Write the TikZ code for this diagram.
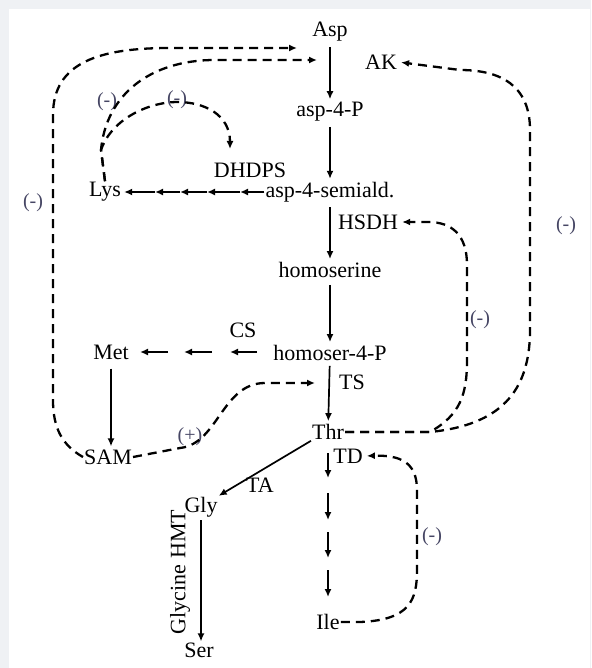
\documentclass[tikz,border=0pt]{standalone}
\usepackage{fontspec}
\setmainfont{Liberation Serif}
\usetikzlibrary{arrows.meta}
\definecolor{framegray}{RGB}{239,241,244}
\definecolor{signcol}{RGB}{70,70,100}

\begin{document}
\begin{tikzpicture}[
  x=1pt, y=-1pt,
  met/.style={inner sep=1pt, font=\fontsize{22}{25}\selectfont},
  sign/.style={inner sep=0pt, text=signcol, font=\fontsize{20}{23}\selectfont},
  arr/.style={-{Latex[length=8pt,width=7pt]}, line width=1.7pt},
  darr/.style={-{Latex[length=8pt,width=7pt]}, line width=2.3pt,
               dash pattern=on 9pt off 6pt}
]
  \useasboundingbox (0,0) rectangle (591,668);
  \fill[framegray] (0,0) rectangle (591,668);
  \fill[white] (9,9) rectangle (590,668);

  % Metabolites and enzymes
  \node[met] (asp) at (330,32) {Asp};
  \node[met] (ak) at (381,62) {AK};
  \node[met] (asp4p) at (330,112) {asp-4-P};
  \node[met] (semiald) at (330,192) {asp-4-semiald.};
  \node[met] (dhdps) at (250,170) {DHDPS};
  \node[met] (lys) at (105,192) {Lys};
  \node[met] (hsdh) at (368,222) {HSDH};
  \node[met] (homoser) at (330,270) {homoserine};
  \node[met] (homoser4p) at (330,353) {homoser-4-P};
  \node[met] (cs) at (243,330) {CS};
  \node[met] (met) at (111,352) {Met};
  \node[met] (ts) at (352,382) {TS};
  \node[met] (thr) at (328,432) {Thr};
  \node[met] (td) at (348,456) {TD};
  \node[met] (ile) at (328,622) {Ile};
  \node[met] (sam) at (108,457) {SAM};
  \node[met] (ta) at (260,485) {TA};
  \node[met] (gly) at (201,507) {Gly};
  \node[met] (ser) at (199,650) {Ser};
  \node[met, rotate=90] (hmt) at (180,572) {Glycine HMT};

  % Signs
  \node[sign] (s1) at (33,203) {(-)};
  \node[sign] (s2) at (107,102) {(-)};
  \node[sign] (s3) at (177,100) {(-)};
  \node[sign] (s4) at (566,226) {(-)};
  \node[sign] (s5) at (480,320) {(-)};
  \node[sign] (s6) at (432,537) {(-)};
  \node[sign] (s7) at (190,437) {(+)};

  % Main pathway
  \draw[arr, shorten <=4pt, shorten >=2pt] (asp) -- (asp4p);
  \draw[arr, shorten <=4pt, shorten >=2pt] (asp4p) -- (semiald);
  \draw[arr, shorten <=4pt, shorten >=2pt] (semiald) -- (homoser);
  \draw[arr, shorten <=6pt, shorten >=2pt] (homoser) -- (homoser4p);
  \draw[arr, shorten <=4pt, shorten >=2pt] (homoser4p) -- (thr);

  % Lys branch
  \coordinate (ly1) at (240,192);
  \coordinate (ly2) at (207,192);
  \coordinate (ly3) at (180,192);
  \coordinate (ly4) at (155,192);
  \draw[arr] (semiald.west) -- (ly1);
  \draw[arr] (ly1) -- (ly2);
  \draw[arr] (ly2) -- (ly3);
  \draw[arr] (ly3) -- (ly4);
  \draw[arr, shorten >=2pt] (ly4) -- (lys.east);

  % Met branch
  \foreach \i/\a/\b in {1/257/230, 2/212/184, 3/168/140} {
    \coordinate (ma\i) at (\a,352);
    \coordinate (mb\i) at (\b,352);
    \draw[arr] (ma\i) -- (mb\i);
  }
  \draw[arr, shorten <=8pt, shorten >=2pt] (met.south) -- (met.south |- sam.north);

  % Ile branch
  \foreach \i/\a/\b in {1/453/478, 2/493/520, 3/532/558, 4/570/597} {
    \coordinate (ia\i) at (328,\a);
    \coordinate (ib\i) at (328,\b);
    \draw[arr] (ia\i) -- (ib\i);
  }

  % Gly branch
  \draw[arr] (thr.south west) -- (gly.north east);
  \draw[arr, shorten <=2pt] (gly.south) -- (gly.south |- ser.north);

  % Feedback
  \coordinate (akin1) at (297,48);
  \coordinate (akin2) at (317,60);
  \coordinate (dhin) at (230,149);
  \coordinate (tsin) at (315,383);
  \draw[darr] (sam.west) .. controls (62,445) and (53,428) .. (53,400)
    -- (53,115) .. controls (53,62) and (100,48) .. (170,48) -- (akin1);
  \draw[darr] (lys.north) -- (101,150) .. controls (106,95) and (150,60) .. (215,60)
    -- (akin2);
  \draw[darr] (lys.north) -- (101,150) .. controls (112,118) and (150,102) .. (177,102)
    .. controls (205,102) and (230,115) .. (dhin);
  \draw[darr] (sam.east) -- (180,448) .. controls (218,444) and (222,383) .. (265,383)
    -- (tsin);
  \draw[darr, shorten >=3pt] (thr.east) -- (430,432) .. controls (500,425) and (530,392) .. (530,330)
    -- (530,130) .. controls (530,85) and (500,70) .. (460,70) -- (ak.east);
  \draw[darr, shorten >=3pt] (thr.east) -- (430,432) .. controls (460,415) and (467,395) .. (467,360)
    -- (467,265) .. controls (467,235) and (452,222) .. (428,222) -- (hsdh.east);
  \draw[darr, shorten >=3pt] (ile.east) -- (360,622) .. controls (410,620) and (417,600) .. (417,570)
    -- (417,490) .. controls (417,462) and (400,455) .. (td.east);
\end{tikzpicture}
\end{document}
